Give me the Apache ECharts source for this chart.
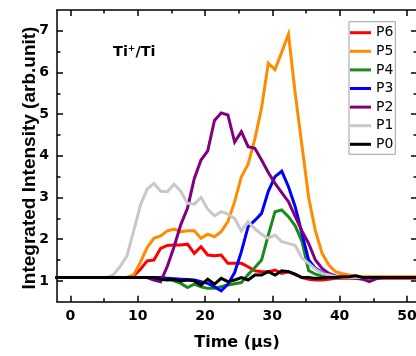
<!DOCTYPE html>
<html>
<head>
<meta charset="utf-8">
<script src="https://cdn.jsdelivr.net/npm/echarts@6/dist/echarts.min.js"></script>
<style>
html,body{margin:0;padding:0;background:#fff;}
#chart{width:416px;height:356px;}
</style>
</head>
<body>
<div id="chart"></div>
<script>
// Sample times (µs)
const time = [-2.6,-1.6,-0.6,0.4,1.4,2.4,3.4,4.4,5.4,6.4,7.4,8.4,9.4,10.4,11.4,12.4,13.4,14.4,15.4,16.4,17.4,18.4,19.4,20.4,21.4,22.4,23.4,24.4,25.4,26.4,27.4,28.4,29.4,30.4,31.4,32.4,33.4,34.4,35.4,36.4,37.4,38.4,39.4,40.4,41.4,42.4,43.4,44.4,45.4,46.4,47.4,48.4,49.4,50.4,51.4,52.4];

const P6 = [1.08,1.08,1.08,1.08,1.08,1.08,1.08,1.08,1.08,1.08,1.08,
  1.08,1.12,1.28,1.48,1.5,1.78,1.85,1.86,1.86,1.88,1.66,1.82,1.62,1.6,1.62,1.42,1.42,1.42,1.34,1.24,1.22,1.22,1.26,1.18,1.22,1.15,1.08,1.04,1.02,1.02,1.04,
  1.06,1.06,1.06,1.06,1.06,1.06,1.06,1.06,1.06,1.06,1.06,1.06,1.06,1.06];
const P5 = [1.08,1.08,1.08,1.08,1.08,1.08,1.08,1.08,1.08,1.08,1.08,1.08,
  1.15,1.45,1.8,2.02,2.08,2.2,2.24,2.18,2.2,2.2,2.02,2.12,2.06,2.18,2.42,2.9,3.5,3.8,4.4,5.15,6.22,6.07,6.49,6.92,5.5,4.25,3.0,2.2,1.66,1.38,1.22,1.17,1.14,1.12,
  1.1,1.1,1.1,1.1,1.1,1.1,1.1,1.1,1.1,1.1];
const P4 = [1.08,1.08,1.08,1.08,1.08,1.08,1.08,1.08,1.08,1.08,1.08,1.08,1.08,1.08,1.08,1.08,1.08,
  1.06,1.0,0.94,0.84,0.92,0.86,0.82,0.82,0.86,0.9,0.93,0.96,1.15,1.32,1.5,2.1,2.66,2.7,2.54,2.32,1.95,1.25,1.16,1.12,1.1,
  1.08,1.08,1.08,1.08,1.08,1.08,1.08,1.08,1.08,1.08,1.08,1.08,1.08,1.08];
const P3 = [1.08,1.08,1.08,1.08,1.08,1.08,1.08,1.08,1.08,1.08,1.08,1.08,1.08,1.08,1.08,1.08,1.08,
  1.06,1.05,1.04,1.03,1.02,0.98,0.94,0.86,0.76,0.92,1.2,1.7,2.3,2.45,2.62,3.15,3.5,3.63,3.26,2.78,2.14,1.5,1.3,1.2,1.12,
  1.08,1.08,1.08,1.08,1.08,1.08,1.08,1.08,1.08,1.08,1.08,1.08,1.08,1.08];
const P2 = [1.08,1.08,1.08,1.08,1.08,1.08,1.08,1.08,1.08,1.08,1.08,1.08,1.08,1.08,1.08,
  1.02,0.98,1.35,1.82,2.35,2.75,3.45,3.9,4.12,4.85,5.03,4.98,4.33,4.58,4.22,4.18,3.9,3.6,3.34,3.12,2.9,2.55,2.2,1.9,1.5,1.3,1.18,1.12,1.1,1.08,1.06,1.04,0.98,1.05,
  1.08,1.08,1.08,1.08,1.08,1.08,1.08];
const P1 = [1.08,1.08,1.08,1.08,1.08,1.08,1.08,1.08,
  1.08,1.15,1.35,1.6,2.2,2.82,3.2,3.34,3.15,3.14,3.32,3.15,2.86,2.84,3.0,2.72,2.56,2.66,2.6,2.5,2.2,2.42,2.25,2.12,2.02,2.1,1.94,1.9,1.85,1.55,1.42,1.28,1.18,1.14,1.1,
  1.08,1.08,1.08,1.08,1.08,1.08,1.08,1.08,1.08,1.08,1.08,1.08,1.08];
const P0 = [1.08,1.08,1.08,1.08,1.08,1.08,1.08,1.08,1.08,1.08,1.08,1.08,1.08,1.08,1.08,1.08,
  1.04,1.02,1.03,1.0,1.02,1.0,0.9,1.04,0.92,1.06,0.98,1.02,1.08,1.02,1.14,1.14,1.22,1.14,1.24,1.22,1.16,1.08,1.08,1.06,1.07,1.08,1.08,1.09,1.1,1.12,
  1.08,1.08,1.08,1.08,1.08,1.08,1.08,1.08,1.08,1.08];

const seriesNames = ['P6','P5','P4','P3','P2','P1','P0'];
const seriesValues = [P6,P5,P4,P3,P2,P1,P0];
const seriesColors = ['#ff0000','#ff8c00','#1a8a1a','#0000ff','#800080','#c8c8c8','#000000'];

const xMajor = [0,10,20,30,40,50];
const xMinor = [5,15,25,35,45];
const yMajor = [1,2,3,4,5,6,7];
const yMinor = [1.5,2.5,3.5,4.5,5.5,6.5];

const chart = echarts.init(document.getElementById('chart'), null, {renderer:'canvas'});

const axisLineStyle = {color:'#000', width:1.5};
function labelCfg(ticks, show) {
  return show
    ? {show:true, customValues:ticks, color:'#000', fontFamily:'DejaVu Sans', fontWeight:'bold', fontSize:14, margin:8}
    : {show:false, formatter:function(){return '';}};
}
function xAx(pos, ticks, len, showLine, showLabel, extra) {
  return Object.assign({
    type:'value', position:pos, min:-2, max:51.5,
    splitLine:{show:false},
    axisLine:{show:showLine, onZero:false, lineStyle:axisLineStyle},
    axisTick:{show:true, inside:true, length:len, customValues:ticks, lineStyle:{color:'#000', width:1.5}},
    axisLabel:labelCfg(ticks, showLabel)
  }, extra || {});
}
function yAx(pos, ticks, len, showLine, showLabel) {
  return {
    type:'value', position:pos, min:0.5, max:7.5,
    splitLine:{show:false},
    axisLine:{show:showLine, onZero:false, lineStyle:axisLineStyle},
    axisTick:{show:true, inside:true, length:len, customValues:ticks, lineStyle:{color:'#000', width:1.5}},
    axisLabel:labelCfg(ticks, showLabel)
  };
}

const option = {
  animation:false,
  backgroundColor:'#fff',
  grid:{left:57, right:-1, top:10, bottom:54.3, containLabel:false, outerBoundsMode:'none'},
  xAxis:[
    xAx('bottom', xMajor, 6, true, true, {
      name:'Time (μs)', nameLocation:'middle', nameGap:33,
      nameTextStyle:{color:'#000', fontFamily:'DejaVu Sans', fontWeight:'bold', fontSize:16}
    }),
    xAx('bottom', xMinor, 3.5, false, false),
    xAx('top', xMajor, 6, true, false),
    xAx('top', xMinor, 3.5, false, false)
  ],
  yAxis:[
    yAx('left', yMajor, 6, true, true),
    yAx('left', yMinor, 3.5, false, false),
    yAx('right', yMajor, 6, true, false),
    yAx('right', yMinor, 3.5, false, false)
  ],
  legend:{
    orient:'vertical', left:349, top:21.7,
    padding:[4,2,3,1], itemGap:4.6, itemWidth:21, itemHeight:3,
    icon:'rect', selectedMode:false,
    borderColor:'#a0a0a0', borderWidth:1, backgroundColor:'#fff',
    textStyle:{color:'#000', fontFamily:'DejaVu Sans', fontSize:14, lineHeight:14},
    data:seriesNames
  },
  graphic:[
    {type:'text', x:30, y:158, rotation:Math.PI/2, z:100,
      style:{text:'Integrated Intensity (arb.unit)', font:'bold 19px "Liberation Sans"', fill:'#000',
        align:'center', verticalAlign:'middle', textAlign:'center', textVerticalAlign:'middle'}},
    {type:'text', x:113, y:44, z:100,
      style:{text:'{a|Ti}{s|+}{a|/Ti}', fill:'#000', align:'left', verticalAlign:'top',
        rich:{
          a:{fontFamily:'DejaVu Sans', fontWeight:'bold', fontSize:14.5, lineHeight:16, fill:'#000', color:'#000'},
          s:{fontFamily:'DejaVu Sans', fontWeight:'bold', fontSize:9, lineHeight:9, verticalAlign:'top', fill:'#000', color:'#000'}
        }}}
  ],
  series: seriesNames.map((n,i)=>({
    name:n, type:'line', xAxisIndex:0, yAxisIndex:0,
    data: time.map((t,k)=>[t, seriesValues[i][k]]),
    symbol:'none', showSymbol:false, clip:true,
    lineStyle:{color:seriesColors[i], width:3, join:'miter'},
    itemStyle:{color:seriesColors[i]},
    z:2+i
  }))
};
chart.setOption(option);
</script>
</body>
</html>
